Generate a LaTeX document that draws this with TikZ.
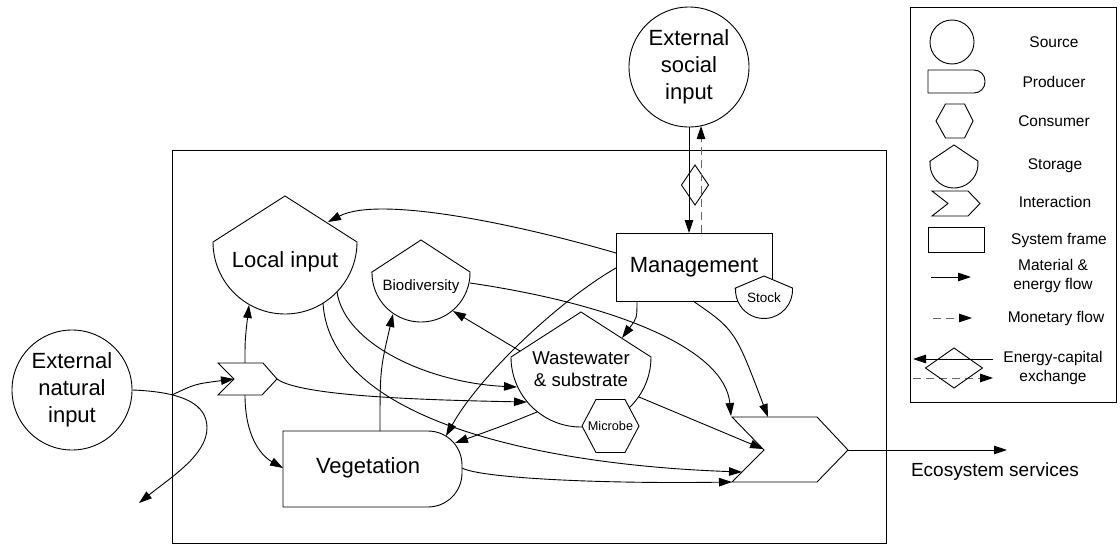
\documentclass[tikz,border=0pt]{standalone}
\usepackage{fontspec}
\setmainfont{Liberation Sans}
\usetikzlibrary{arrows.meta}
% storage outline: cx cy r h s
\newcommand\storageshape[5]{%
  \draw[shp] ({#1-sqrt(#3*#3-#5*#5)},{#2-#5}) -- (#1,{#2-#4}) -- ({#1+sqrt(#3*#3-#5*#5)},{#2-#5})
    arc[start angle={-asin(#5/#3)}, end angle={180+asin(#5/#3)}, radius=#3] -- cycle;}
\begin{document}
\begin{tikzpicture}[x=1pt,y=-1pt,line width=0.9pt,
  flow/.style={-{Triangle[length=13pt,width=8.5pt]}},
  money/.style={-{Triangle[length=13pt,width=8.5pt,black]}, draw=black!60, dash pattern=on 8pt off 5pt},
  shp/.style={draw, fill=white},
  big/.style={font=\fontsize{22}{27}\selectfont, align=center, inner sep=0pt},
  ww/.style={font=\fontsize{18.6}{22}\selectfont, align=center, inner sep=0pt},
  mid/.style={font=\fontsize{15}{18}\selectfont, align=center, inner sep=0pt},
  small/.style={font=\fontsize{13.5}{16}\selectfont, align=center, inner sep=0pt},
  leg/.style={font=\fontsize{15.5}{18.5}\selectfont, align=center, inner sep=0pt},
]
\useasboundingbox (0,0) rectangle (1120,546);

% frames
\node[draw, minimum width=714, minimum height=393, inner sep=0] (frame) at (529,346.5) {};
\node[draw, minimum width=206, minimum height=395, inner sep=0] (legend) at (1013,204.5) {};

% sources
\node[draw,circle,minimum size=120,inner sep=0,big] (social) at (689,67) {External\\social\\input};
\node[draw,circle,minimum size=120,inner sep=0,big] (natural) at (72,390) {External\\natural\\input};

% management
\node[draw,minimum width=156,minimum height=68,inner sep=0,big] (mgmt) at (694,267) {Management};

% storages
\storageshape{285}{242}{72}{46}{0}
\node[big] (local) at (285,262) {Local input};
\storageshape{421}{273}{49}{33}{1}
\node[mid] (biodiv) at (421,287) {Biodiversity};
\storageshape{581}{357}{70}{45}{0}
\node[ww] (waste) at (581,369) {Wastewater\\\& substrate};
\storageshape{764}{290}{28.5}{14}{2}
\node[small] (stock) at (764,298) {Stock};

% microbe consumer
\draw[shp] (582,426) -- (596,399.5) -- (625,399.5) -- (639,426) -- (625,452.5) -- (596,452.5) -- cycle;
\node[font=\fontsize{12.7}{15}\selectfont, inner sep=0] (microbe) at (610.5,426) {Microbe};

% vegetation producer
\draw[shp] (283,431) -- (428,431) arc[start angle=-90,end angle=0,radius=34] -- (462,473)
  arc[start angle=0,end angle=90,radius=34] -- (283,507) -- cycle;
\node[big] (veg) at (368,468) {Vegetation};

% interactions
\draw[shp] (218,363) -- (263,363) -- (277,379) -- (262,395) -- (218,395) -- (234,379) -- cycle;
\draw[shp] (732,417) -- (817,417) -- (848,450) -- (817,482) -- (732,482) -- (764,450) -- cycle;

% exchange diamond
\draw (695,165) -- (708.5,185) -- (695,205) -- (681.5,185) -- cycle;

% connection points
\coordinate (socS) at (689,127);
\coordinate (socSb) at (701,126);
\coordinate (mgmtNa) at (689,233);
\coordinate (mgmtNb) at (701,233);
\coordinate (mgmtW1) at (616,253);
\coordinate (mgmtW2) at (616,268);
\coordinate (mgmtS1) at (637,301);
\coordinate (mgmtS2) at (693,301);
\coordinate (localNE) at (328,222);
\coordinate (localS) at (249,305);
\coordinate (localSE1) at (337,292);
\coordinate (localSE2) at (323,303);
\coordinate (bioS) at (393,314);
\coordinate (bioSE) at (453,311);
\coordinate (bioE) at (470,283);
\coordinate (wwW1) at (517,387);
\coordinate (wwW2) at (527,402);
\coordinate (wwSW) at (537,412);
\coordinate (wwNW) at (520,351);
\coordinate (wwNE) at (622,338);
\coordinate (wwSE) at (639,397);
\coordinate (vegN) at (380,431);
\coordinate (vegNE1) at (446,436);
\coordinate (vegNE2) at (455,443);
\coordinate (vegE) at (462,468);
\coordinate (vegW) at (283,468);
\coordinate (siN) at (245,363);
\coordinate (siS) at (245,395);
\coordinate (siE) at (277,379);
\coordinate (siNotch) at (234,379);
\coordinate (split) at (172,395);
\coordinate (loss) at (139,503);
\coordinate (biNW) at (731,416);
\coordinate (biN) at (768,417);
\coordinate (biNotch) at (763,449);
\coordinate (biSW1) at (742,472);
\coordinate (biSW2) at (732,482);
\coordinate (biE) at (848,450);
\coordinate (es) at (1007,450);

% connectors
\draw[flow] (socS) -- (mgmtNa);
\draw[money] (mgmtNb) -- (socSb);
\draw[flow] (mgmtW1) .. controls (520,225) and (380,195) .. (localNE);
\draw[flow] (mgmtW2) .. controls (560,300) and (480,375) .. (vegNE1);
\draw[flow] (mgmtS1) .. controls (637,318) .. (wwNE);
\draw[flow] (mgmtS2) .. controls (735,330) .. (biN);
\draw[flow] (bioE) .. controls (620,305) and (725,350) .. (biNW);
\draw[flow] (wwNW) -- (bioSE);
\draw[flow] (vegN) .. controls (380,370) .. (bioS);
\draw[flow] (wwSW) .. controls (505,425) .. (vegNE2);
\draw[flow] (wwSE) -- (biNotch);
\draw[flow] (localSE1) .. controls (345,345) and (430,383) .. (wwW1);
\draw[flow] (localSE2) .. controls (330,420) and (540,465) .. (biSW1);
\draw[flow] (siE) .. controls (300,396) and (420,400) .. (wwW2);
\draw[flow] (siN) .. controls (245,340) .. (localS);
\draw[flow] (siS) .. controls (245,435) and (260,455) .. (vegW);
\draw[flow] (natural.east) .. controls (185,392) and (207,405) .. (207,428)
  .. controls (207,455) and (170,478) .. (loss);
\draw[flow] (split) .. controls (195,384) .. (siNotch);
\draw[flow] (vegE) .. controls (480,478) and (600,484) .. (biSW2);
\draw[flow] (biE) -- (es);
\node[font=\fontsize{19}{22}\selectfont, inner sep=0] (esT) at (995,472) {Ecosystem services};

% legend
\node[draw,circle,minimum size=44,inner sep=0] (lgSrc) at (952,42) {};
\node[leg] (lgSrcT) at (1054,42) {Source};
\draw (928,70) -- (974,70) arc[start angle=-90,end angle=0,radius=11] -- (985,82)
  arc[start angle=0,end angle=90,radius=11] -- (928,93) -- cycle;
\node[leg] (lgProT) at (1054,82) {Producer};
\draw (936,121) -- (945.5,104) -- (964.5,104) -- (973,121) -- (964.5,138) -- (945.5,138) -- cycle;
\node[leg] (lgConT) at (1054,121) {Consumer};
\storageshape{954}{164}{24}{19}{3}
\node[leg] (lgStoT) at (1055,166) {Storage};
\draw (932,191) -- (968,191) -- (980,203.5) -- (968,216) -- (932,216) -- (948,203.5) -- cycle;
\node[leg] (lgIntT) at (1055,202) {Interaction};
\node[draw,minimum width=56,minimum height=25,inner sep=0] (lgSys) at (956,239.5) {};
\node[leg] (lgSysT) at (1059,240) {System frame};
\coordinate (lgM1) at (931,277);
\coordinate (lgM2) at (971,277);
\draw[flow] (lgM1) -- (lgM2);
\node[leg] (lgMT) at (1053,276) {Material \&\\energy flow};
\coordinate (lgD1) at (933,318);
\coordinate (lgD2) at (972,318);
\draw[money] (lgD1) -- (lgD2);
\node[leg] (lgDT) at (1056,318) {Monetary flow};
\coordinate (lgE1) at (993,359);
\coordinate (lgE2) at (913,359);
\coordinate (lgE3) at (913,378);
\coordinate (lgE4) at (993,378);
\draw[flow] (lgE1) -- (lgE2);
\draw[money] (lgE3) -- (lgE4);
\draw (954,348) -- (982.5,368) -- (954,388) -- (925.5,368) -- cycle;
\node[leg] (lgET) at (1053,368) {Energy-capital\\exchange};
\end{tikzpicture}
\end{document}
